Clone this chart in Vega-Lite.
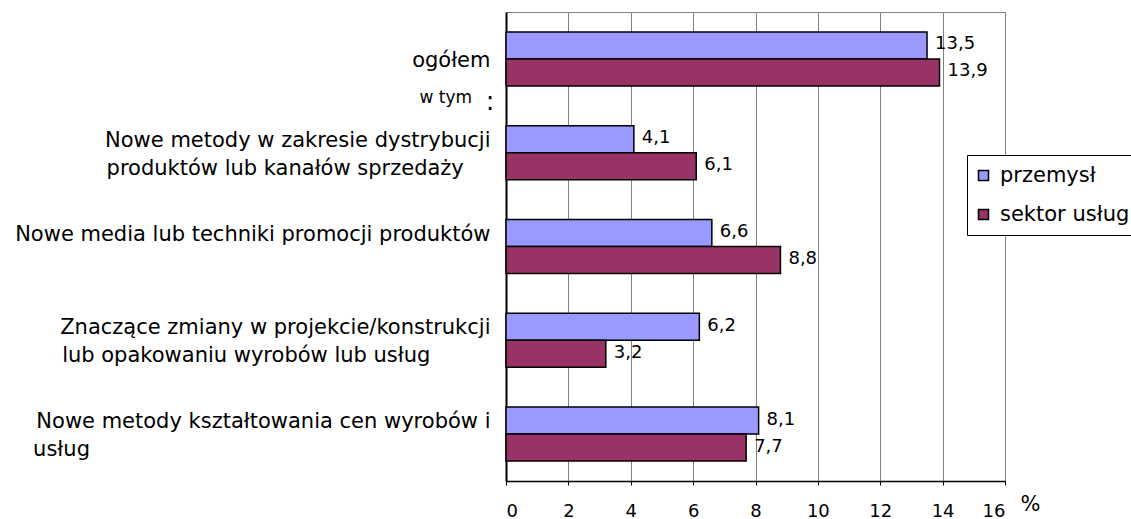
{
  "$schema": "https://vega.github.io/schema/vega-lite/v6.json",
  "width": 499,
  "height": 469,
  "autosize": {"type": "none"},
  "padding": {"left": 506, "top": 12, "right": 126, "bottom": 38},
  "background": "white",
  "config": {
    "font": "DejaVu Sans",
    "view": {"stroke": "#808080", "strokeWidth": 1},
    "locale": {"number": {"decimal": ",", "thousands": " ", "grouping": [3], "currency": ["", " zł"]}}
  },
  "datasets": {
    "main": [
      {"kategoria": "ogółem", "sektor": "przemysł", "wartosc": 13.5},
      {"kategoria": "ogółem", "sektor": "sektor usług", "wartosc": 13.9},
      {"kategoria": "Nowe metody w zakresie dystrybucji produktów lub kanałów sprzedaży", "sektor": "przemysł", "wartosc": 4.1},
      {"kategoria": "Nowe metody w zakresie dystrybucji produktów lub kanałów sprzedaży", "sektor": "sektor usług", "wartosc": 6.1},
      {"kategoria": "Nowe media lub techniki promocji produktów", "sektor": "przemysł", "wartosc": 6.6},
      {"kategoria": "Nowe media lub techniki promocji produktów", "sektor": "sektor usług", "wartosc": 8.8},
      {"kategoria": "Znaczące zmiany w projekcie/konstrukcji lub opakowaniu wyrobów lub usług", "sektor": "przemysł", "wartosc": 6.2},
      {"kategoria": "Znaczące zmiany w projekcie/konstrukcji lub opakowaniu wyrobów lub usług", "sektor": "sektor usług", "wartosc": 3.2},
      {"kategoria": "Nowe metody kształtowania cen wyrobów i usług", "sektor": "przemysł", "wartosc": 8.1},
      {"kategoria": "Nowe metody kształtowania cen wyrobów i usług", "sektor": "sektor usług", "wartosc": 7.7}
    ],
    "note": [
      {"kategoria": "ogółem", "tekst": "w tym", "znak": ":"}
    ]
  },
  "data": {"name": "main"},
  "encoding": {
    "y": {
      "field": "kategoria",
      "type": "nominal",
      "scale": {
        "domain": [
          "ogółem",
          "Nowe metody w zakresie dystrybucji produktów lub kanałów sprzedaży",
          "Nowe media lub techniki promocji produktów",
          "Znaczące zmiany w projekcie/konstrukcji lub opakowaniu wyrobów lub usług",
          "Nowe metody kształtowania cen wyrobów i usług"
        ],
        "paddingInner": 0.424,
        "paddingOuter": 0.212
      },
      "axis": {
        "title": null,
        "ticks": false,
        "tickSize": 0,
        "domainColor": "black",
        "domainWidth": 2,
        "labelPadding": 16,
        "labelOffset": 2,
        "labelFontSize": 21,
        "labelColor": "black",
        "labelLineHeight": 28,
        "labelLimit": 0,
        "labelBaseline": {"condition": {"test": "datum.value == 'ogółem'", "value": "middle"}, "value": "line-bottom"},
        "labelExpr": "datum.value == 'ogółem' ? 'ogółem' : datum.value == 'Nowe metody w zakresie dystrybucji produktów lub kanałów sprzedaży' ? ['Nowe metody w zakresie dystrybucji', pad('produktów lub kanałów sprzedaży', 35, '\u00a0') + '\u200b'] : datum.value == 'Nowe media lub techniki promocji produktów' ? 'Nowe media lub techniki promocji produktów' : datum.value == 'Znaczące zmiany w projekcie/konstrukcji lub opakowaniu wyrobów lub usług' ? ['Znaczące zmiany w projekcie/konstrukcji', pad('lub opakowaniu wyrobów lub usług', 41, '\u00a0') + '\u200b'] : ['Nowe metody kształtowania cen wyrobów i', pad('usług', 65, '\u00a0') + '\u200b']"
      }
    }
  },
  "layer": [
    {
      "mark": {"type": "bar", "stroke": "black", "strokeWidth": 1.5},
      "encoding": {
        "x": {
          "field": "wartosc",
          "type": "quantitative",
          "scale": {"domain": [0, 16], "nice": false},
          "axis": {
            "values": [0, 2, 4, 6, 8, 10, 12, 14, 16],
            "grid": true,
            "gridColor": "#808080",
            "gridOpacity": 1,
            "gridWidth": 1,
            "domainColor": "black",
            "domainWidth": 1.5,
            "tickColor": "black",
            "tickSize": 4,
            "labelFontSize": 18,
            "labelColor": "black",
            "labelPadding": 17,
            "title": "%",
            "titleFontSize": 21,
            "titleFontWeight": "normal",
            "titleColor": "black",
            "titleX": 514,
            "titleY": 29,
            "titleAlign": "left",
            "titleBaseline": "alphabetic"
          }
        },
        "yOffset": {"field": "sektor", "type": "nominal", "scale": {"paddingInner": 0, "paddingOuter": 0}},
        "color": {
          "field": "sektor",
          "type": "nominal",
          "scale": {"domain": ["przemysł", "sektor usług"], "range": ["#9999FF", "#993366"]},
          "legend": {
            "title": null,
            "orient": "none",
            "legendX": 461,
            "legendY": 143,
            "fillColor": "white",
            "strokeColor": "black",
            "padding": 10,
            "labelFontSize": 21,
            "labelColor": "black",
            "labelOffset": 6,
            "rowPadding": 17,
            "symbolType": "square",
            "symbolSize": 100,
            "symbolOffset": -4,
            "symbolStrokeColor": "black",
            "symbolStrokeWidth": 1.5,
            "symbolOpacity": 1
          }
        }
      }
    },
    {
      "mark": {"type": "text", "align": "left", "baseline": "middle", "dx": 8, "dy": -1, "fontSize": 18, "color": "black"},
      "encoding": {
        "x": {"field": "wartosc", "type": "quantitative"},
        "yOffset": {"field": "sektor", "type": "nominal"},
        "text": {"field": "wartosc", "type": "quantitative", "format": ".1f"}
      }
    },
    {
      "data": {"name": "note"},
      "mark": {"type": "text", "align": "right", "baseline": "alphabetic", "dx": -34, "dy": 44, "fontSize": 17, "color": "black"},
      "encoding": {
        "x": {"datum": 0, "type": "quantitative"},
        "text": {"field": "tekst"}
      }
    },
    {
      "data": {"name": "note"},
      "mark": {"type": "text", "align": "center", "baseline": "alphabetic", "dx": -16, "dy": 51, "fontSize": 26, "color": "black"},
      "encoding": {
        "x": {"datum": 0, "type": "quantitative"},
        "text": {"field": "znak"}
      }
    }
  ]
}
